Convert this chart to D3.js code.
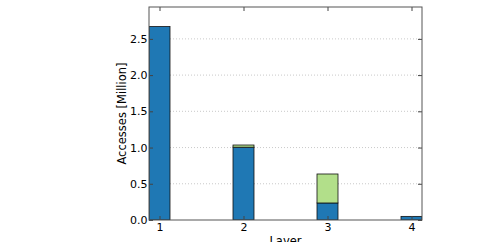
<!DOCTYPE html>
<html>
<head>
<meta charset="utf-8">
<script src="https://cdn.jsdelivr.net/npm/d3@7"></script>
<style>
  body { margin: 0; background: #fff; }
  text { font-family: "DejaVu Sans", sans-serif; }
</style>
</head>
<body>
<div id="chart"></div>
<script>
// data
var layers = [1, 2, 3, 4];
var baseValues = [2.67, 1.005, 0.235, 0.05];
var extraValues = [0.0, 0.03, 0.40, 0.0];
var yTicks = [0.0, 0.5, 1.0, 1.5, 2.0, 2.5];

var svgWidth = 499, svgHeight = 242;
var margin = { top: 7, right: 77, bottom: 22, left: 149 };
var chartWidth = svgWidth - margin.left - margin.right;
var chartHeight = svgHeight - margin.top - margin.bottom;

var svg = d3.select("#chart").append("svg")
  .attr("width", svgWidth)
  .attr("height", svgHeight);

var chartGroup = svg.append("g")
  .attr("transform", `translate(${margin.left}, ${margin.top})`);

var barW = 0.25;
var xScale = d3.scaleLinear()
  .domain([1 - barW / 2, 4 + barW / 2])
  .range([0, chartWidth]);

var yScale = d3.scaleLinear()
  .domain([0, 2.94])
  .range([chartHeight, 0]);

// grid
chartGroup.selectAll(".grid")
  .data(yTicks.slice(1))
  .enter()
  .append("line")
  .attr("class", "grid")
  .attr("x1", 0).attr("x2", chartWidth)
  .attr("y1", d => yScale(d)).attr("y2", d => yScale(d))
  .attr("stroke", "#bbb")
  .attr("stroke-width", 0.8)
  .attr("stroke-dasharray", "1,2");

// bars
var clip = chartGroup.append("clipPath").attr("id", "clip")
  .append("rect").attr("width", chartWidth).attr("height", chartHeight);

var bars = chartGroup.append("g").attr("clip-path", "url(#clip)");

bars.selectAll(".base")
  .data(layers)
  .enter()
  .append("rect")
  .attr("x", (d, i) => xScale(d - barW / 2))
  .attr("width", xScale(barW) - xScale(0))
  .attr("y", (d, i) => yScale(baseValues[i]))
  .attr("height", (d, i) => chartHeight - yScale(baseValues[i]))
  .attr("fill", "#1f78b4")
  .attr("stroke", "#111")
  .attr("stroke-width", 0.8);

bars.selectAll(".extra")
  .data(layers)
  .enter()
  .append("rect")
  .attr("x", (d, i) => xScale(d - barW / 2))
  .attr("width", xScale(barW) - xScale(0))
  .attr("y", (d, i) => yScale(baseValues[i] + extraValues[i]))
  .attr("height", (d, i) => yScale(baseValues[i]) - yScale(baseValues[i] + extraValues[i]))
  .attr("fill", "#b2df8a")
  .attr("stroke", "#111")
  .attr("stroke-width", 0.8)
  .attr("display", (d, i) => extraValues[i] > 0 ? null : "none");

// axes (ticks inside, matplotlib classic)
var xAxis = d3.axisBottom(xScale).tickValues(layers).tickFormat(d3.format("d")).tickSizeInner(-4).tickSizeOuter(0).tickPadding(3);
var yAxis = d3.axisLeft(yScale).tickValues(yTicks).tickFormat(d3.format(".1f")).tickSizeInner(-4).tickSizeOuter(0).tickPadding(1.5);

var gx = chartGroup.append("g")
  .attr("transform", `translate(0, ${chartHeight})`)
  .call(xAxis);
var gy = chartGroup.append("g").call(yAxis);

var gxTop = chartGroup.append("g")
  .call(d3.axisTop(xScale).tickValues(layers).tickFormat("").tickSizeInner(-4).tickSizeOuter(0));
var gyRight = chartGroup.append("g")
  .attr("transform", `translate(${chartWidth}, 0)`)
  .call(d3.axisRight(yScale).tickValues(yTicks).tickFormat("").tickSizeInner(-4).tickSizeOuter(0));

[gx, gy, gxTop, gyRight].forEach(function (g) {
  g.select(".domain").remove();
  g.selectAll("line").attr("stroke", "#444");
  g.selectAll("text")
    .attr("fill", "#000")
    .style("font-size", "11px")
    .style("font-family", "DejaVu Sans, sans-serif");
});

// frame
chartGroup.append("rect")
  .attr("width", chartWidth)
  .attr("height", chartHeight)
  .attr("fill", "none")
  .attr("stroke", "#555")
  .attr("stroke-width", 1);

// labels
chartGroup.append("text")
  .attr("transform", "rotate(-90)")
  .attr("x", 0 - yScale(1.47))
  .attr("y", -23)
  .attr("text-anchor", "middle")
  .style("font-size", "11.5px")
  .text("Accesses [Million]");

chartGroup.append("text")
  .attr("x", chartWidth / 2)
  .attr("y", chartHeight + 25)
  .attr("text-anchor", "middle")
  .style("font-size", "11.5px")
  .text("Layer");
</script>
</body>
</html>
